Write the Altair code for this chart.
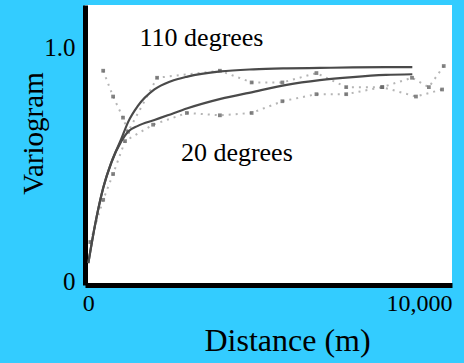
import altair as alt
import pandas as pd

# Model curves
fit110_x = [0, 200, 450, 700, 1000, 1200, 1500, 2000, 2500, 3000, 4000, 5000, 6000, 7000, 8000, 9000, 9800]
fit110_y = [0.08, 0.24, 0.40, 0.51, 0.61, 0.68, 0.75, 0.82, 0.855, 0.875, 0.897, 0.906, 0.91, 0.912, 0.914, 0.915, 0.915]
fit20_x = [0, 200, 450, 700, 1000, 1200, 1500, 2000, 2400, 3000, 4000, 5000, 6000, 7000, 8000, 9000, 9800]
fit20_y = [0.08, 0.24, 0.40, 0.51, 0.60, 0.64, 0.665, 0.69, 0.71, 0.74, 0.78, 0.81, 0.84, 0.86, 0.873, 0.882, 0.885]

# Experimental points
pts110_x = [450, 750, 1050, 1200, 2080, 3980, 4940, 5870, 6900, 7800, 8890, 9790, 10300, 10750]
pts110_y = [0.90, 0.79, 0.70, 0.64, 0.87, 0.90, 0.85, 0.85, 0.89, 0.83, 0.83, 0.87, 0.83, 0.92]
pts20_x = [60, 450, 750, 1110, 1960, 2980, 3980, 4940, 5870, 6900, 7800, 8890, 9910, 10700]
pts20_y = [0.17, 0.35, 0.46, 0.60, 0.67, 0.72, 0.71, 0.72, 0.77, 0.80, 0.80, 0.83, 0.79, 0.82]

labels_text = ["110 degrees", "20 degrees"]
labels_x = [1550, 2800]
labels_y = [1.04, 0.55]

fit = pd.concat([
    pd.DataFrame({"d": fit110_x, "v": fit110_y, "s": "110"}),
    pd.DataFrame({"d": fit20_x, "v": fit20_y, "s": "20"}),
])
pts = pd.concat([
    pd.DataFrame({"d": pts110_x, "v": pts110_y, "s": "110"}),
    pd.DataFrame({"d": pts20_x, "v": pts20_y, "s": "20"}),
])
lab = pd.DataFrame({"t": labels_text, "d": labels_x, "v": labels_y})

SERIF = "Times New Roman, Liberation Serif, serif"

xs = alt.Scale(domain=[-100, 11000], nice=False, zero=False)
ys = alt.Scale(domain=[-0.013, 1.18], nice=False, zero=False)

X = alt.X("d:Q", scale=xs, title="Distance (m)",
          axis=alt.Axis(values=[0, 10000], format=",d", domainWidth=5, domainColor="black",
                        ticks=False, grid=False, labelFont=SERIF, labelFontSize=24,
                        labelColor="black", labelPadding=6, titleFont=SERIF,
                        titleFontSize=32, titleFontWeight="normal", titleColor="black",
                        titleX=202, titleY=65, titleBaseline="alphabetic", titleAlign="center"))
Y = alt.Y("v:Q", scale=ys, title="Variogram",
          axis=alt.Axis(values=[0, 1.0], labelExpr="datum.value == 0 ? '0' : format(datum.value, '.1f')",
                        domainWidth=5, domainColor="black", ticks=False, grid=False,
                        labelFont=SERIF, labelFontSize=25, labelColor="black", labelPadding=10,
                        titleFont=SERIF, titleFontSize=29, titleFontWeight="normal",
                        titleColor="black", titleX=-37, titleY=128, titleAngle=-90,
                        titleBaseline="bottom", titleAlign="center"))

dots = alt.Chart(pts).mark_line(color="#b5b5b5", strokeDash=[2, 5], strokeWidth=2,
                                point=alt.OverlayMarkDef(shape="square", size=14, color="#666666", opacity=0.8)).encode(
    x=X, y=Y, detail="s:N")
curves = alt.Chart(fit).mark_line(color="#4a4a4a", strokeWidth=2.2, interpolate="monotone").encode(
    x=X, y=Y, detail="s:N")
texts = alt.Chart(lab).mark_text(align="left", baseline="middle", font=SERIF,
                                 fontSize=26, color="black").encode(x=X, y=Y, text="t:N")

chart = alt.layer(dots, curves, texts).properties(
    width=367, height=280,
    autosize=alt.AutoSizeParams(type="none"),
    padding={"left": 85, "top": 5, "right": 12, "bottom": 78},
    background="#33ccff",
).configure_view(fill="white", stroke=None)

chart.save("out.html", embed_options={"renderer": "svg", "actions": False})
